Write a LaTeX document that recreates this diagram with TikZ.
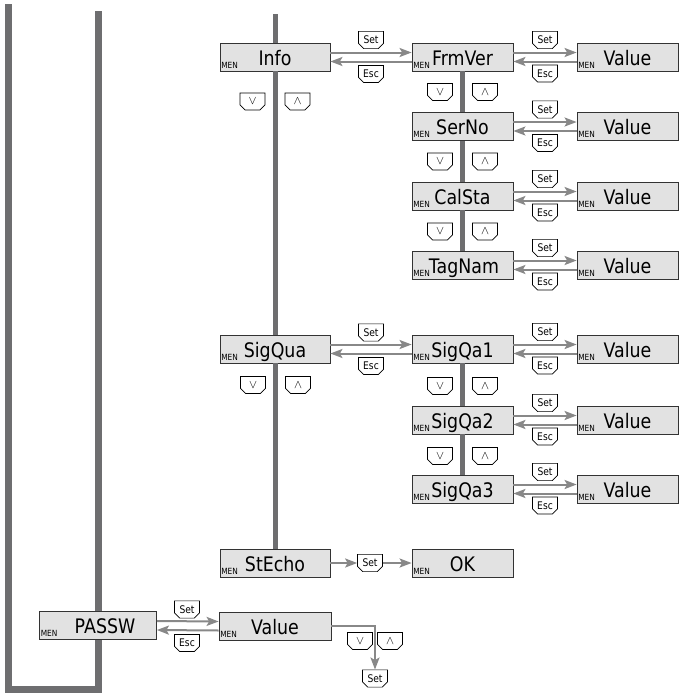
\documentclass[tikz,border=0pt]{standalone}
\usepackage{fontspec}
\setmainfont[FakeStretch=0.87]{DejaVu Sans}
\usetikzlibrary{arrows.meta,shapes.misc}
\definecolor{bargray}{HTML}{6E6E70}
\definecolor{arrgray}{HTML}{888888}
\definecolor{boxgray}{HTML}{E2E2E2}
\tikzset{
  menbox/.style={draw=black!80, line width=0.8pt, fill=boxgray, minimum height=28pt,
    inner sep=0pt, text height=16pt, text depth=0pt, font=\fontsize{20}{20}\selectfont,
    label={[anchor=south west, inner xsep=1.5pt, inner ysep=3pt, text height=, text depth=,
      font=\fontsize{8.5}{8.5}\selectfont]south west:MEN}},
  keybox/.style={chamfered rectangle, chamfered rectangle corners={south west,south east},
    chamfered rectangle xsep=1.5pt, draw=black, line width=0.7pt, fill=white,
    minimum width=25pt, minimum height=15pt, inner sep=1pt, font=\fontsize{10.5}{10.5}\selectfont},
  navkey/.style={keybox, minimum height=17pt, font=\fontsize{13}{13}\selectfont},
  bar/.style={line width=#1, bargray},
  bar/.default=5pt,
  flowarr/.style={line width=2pt, arrgray, -{Stealth[length=12pt,width=9pt,inset=2.5pt]}}
}
\begin{document}
\begin{tikzpicture}[x=1pt,y=-1pt]
\useasboundingbox (0,0) rectangle (685,694);
% menu boxes
\node[menbox, minimum width=110pt] at (275,57) (info) {Info};
\node[menbox, minimum width=101pt] at (462.5,57) (frmver) {FrmVer};
\node[menbox, minimum width=101pt] at (627.5,57) (val1) {Value};
\node[menbox, minimum width=101pt] at (462.5,126.5) (serno) {SerNo};
\node[menbox, minimum width=101pt] at (627.5,126.5) (val2) {Value};
\node[menbox, minimum width=101pt] at (462.5,196) (calsta) {CalSta};
\node[menbox, minimum width=101pt] at (627.5,196) (val3) {Value};
\node[menbox, minimum width=101pt] at (462.5,265) (tagnam) {\hspace*{3pt}TagNam};
\node[menbox, minimum width=101pt] at (627.5,265) (val4) {Value};
\node[menbox, minimum width=110pt] at (275,349) (sigqua) {SigQua};
\node[menbox, minimum width=101pt] at (462.5,349) (sigqa1) {SigQa1};
\node[menbox, minimum width=101pt] at (627.5,349) (val5) {Value};
\node[menbox, minimum width=101pt] at (462.5,420) (sigqa2) {SigQa2};
\node[menbox, minimum width=101pt] at (627.5,420) (val6) {Value};
\node[menbox, minimum width=101pt] at (462.5,489) (sigqa3) {SigQa3};
\node[menbox, minimum width=101pt] at (627.5,489) (val7) {Value};
\node[menbox, minimum width=110pt] at (275,563) (stecho) {StEcho};
\node[menbox, minimum width=101pt] at (462.5,563) (ok) {OK};
\node[menbox, minimum width=117pt] at (98,625.5) (passw) {\hspace*{14pt}PASSW};
\node[menbox, minimum width=112pt] at (275,626) (pval) {Value};
% grey bars
\coordinate (utopl) at (8.5,4);
\coordinate (utopr) at (98,11);
\coordinate (ubotl) at (8.5,689.5);
\coordinate (ubotr) at (98,689.5);
\coordinate (infotop) at (275,14);
\draw[bar=7pt] (utopr)--(passw.north);
\draw[bar=7pt] (passw.south)--(ubotr)--(ubotl)--(utopl);
\draw[bar] (infotop)--(info.north);
\draw[bar] (info.south)--(sigqua.north);
\draw[bar] (sigqua.south)--(stecho.north);
\draw[bar] (frmver.south)--(serno.north);
\draw[bar] (serno.south)--(calsta.north);
\draw[bar] (calsta.south)--(tagnam.north);
\draw[bar] (sigqa1.south)--(sigqa2.north);
\draw[bar] (sigqa2.south)--(sigqa3.north);
% set / esc arrows
\draw[flowarr]([yshift=4.5pt]info.east)--([yshift=4.5pt]frmver.west);
\draw[flowarr]([yshift=-4.5pt]frmver.west)--([yshift=-4.5pt]info.east);
\draw[flowarr]([yshift=4.5pt]frmver.east)--([yshift=4.5pt]val1.west);
\draw[flowarr]([yshift=-4.5pt]val1.west)--([yshift=-4.5pt]frmver.east);
\draw[flowarr]([yshift=4.5pt]serno.east)--([yshift=4.5pt]val2.west);
\draw[flowarr]([yshift=-4.5pt]val2.west)--([yshift=-4.5pt]serno.east);
\draw[flowarr]([yshift=4.5pt]calsta.east)--([yshift=4.5pt]val3.west);
\draw[flowarr]([yshift=-4.5pt]val3.west)--([yshift=-4.5pt]calsta.east);
\draw[flowarr]([yshift=4.5pt]tagnam.east)--([yshift=4.5pt]val4.west);
\draw[flowarr]([yshift=-4.5pt]val4.west)--([yshift=-4.5pt]tagnam.east);
\draw[flowarr]([yshift=4.5pt]sigqua.east)--([yshift=4.5pt]sigqa1.west);
\draw[flowarr]([yshift=-4.5pt]sigqa1.west)--([yshift=-4.5pt]sigqua.east);
\draw[flowarr]([yshift=4.5pt]sigqa1.east)--([yshift=4.5pt]val5.west);
\draw[flowarr]([yshift=-4.5pt]val5.west)--([yshift=-4.5pt]sigqa1.east);
\draw[flowarr]([yshift=4.5pt]sigqa2.east)--([yshift=4.5pt]val6.west);
\draw[flowarr]([yshift=-4.5pt]val6.west)--([yshift=-4.5pt]sigqa2.east);
\draw[flowarr]([yshift=4.5pt]sigqa3.east)--([yshift=4.5pt]val7.west);
\draw[flowarr]([yshift=-4.5pt]val7.west)--([yshift=-4.5pt]sigqa3.east);
\draw[flowarr]([yshift=4.5pt]passw.east)--([yshift=4.5pt]pval.west);
\draw[flowarr]([yshift=-4.5pt]pval.west)--([yshift=-4.5pt]passw.east);
% keys
\node[keybox] at (371,40) (kset1) {Set};
\node[keybox] at (371,74) (kesc1) {Esc};
\node[keybox] at (545,40) (kset2) {Set};
\node[keybox] at (545,73.5) (kesc2) {Esc};
\node[keybox] at (545,109.5) (kset3) {Set};
\node[keybox] at (545,143) (kesc3) {Esc};
\node[keybox] at (545,179) (kset4) {Set};
\node[keybox] at (545,212.5) (kesc4) {Esc};
\node[keybox] at (545,248) (kset5) {Set};
\node[keybox] at (545,281.5) (kesc5) {Esc};
\node[keybox] at (371,332.5) (kset6) {Set};
\node[keybox] at (371,366) (kesc6) {Esc};
\node[keybox] at (545,332) (kset7) {Set};
\node[keybox] at (545,365.5) (kesc7) {Esc};
\node[keybox] at (545,403) (kset8) {Set};
\node[keybox] at (545,436.5) (kesc8) {Esc};
\node[keybox] at (545,472) (kset9) {Set};
\node[keybox] at (545,505.5) (kesc9) {Esc};
\node[keybox] at (187,609.5) (kset10) {Set};
\node[keybox] at (187,643) (kesc10) {Esc};
\node[keybox] at (370,563) (eset) {Set};
\node[keybox] at (375,678.5) (pset) {Set};
\draw[flowarr](stecho.east)--(eset.west);
\draw[flowarr](eset.east)--(ok.west);
\draw[flowarr](pval.east)-|(pset.north);
% up / down keys
\node[navkey] at (252.5,101.5) (kdn1) {$\vee$};
\node[navkey] at (297.5,101.5) (kup1) {$\wedge$};
\node[navkey] at (440,92) (kdn2) {$\vee$};
\node[navkey] at (485,92) (kup2) {$\wedge$};
\node[navkey] at (440,161.5) (kdn3) {$\vee$};
\node[navkey] at (485,161.5) (kup3) {$\wedge$};
\node[navkey] at (440,231.5) (kdn4) {$\vee$};
\node[navkey] at (485,231.5) (kup4) {$\wedge$};
\node[navkey] at (253,385) (kdn5) {$\vee$};
\node[navkey] at (298,385) (kup5) {$\wedge$};
\node[navkey] at (440,386) (kdn6) {$\vee$};
\node[navkey] at (485,386) (kup6) {$\wedge$};
\node[navkey] at (440,456) (kdn7) {$\vee$};
\node[navkey] at (485,456) (kup7) {$\wedge$};
\node[navkey] at (360,641) (kdn8) {$\vee$};
\node[navkey] at (390,641) (kup8) {$\wedge$};
\end{tikzpicture}
\end{document}
